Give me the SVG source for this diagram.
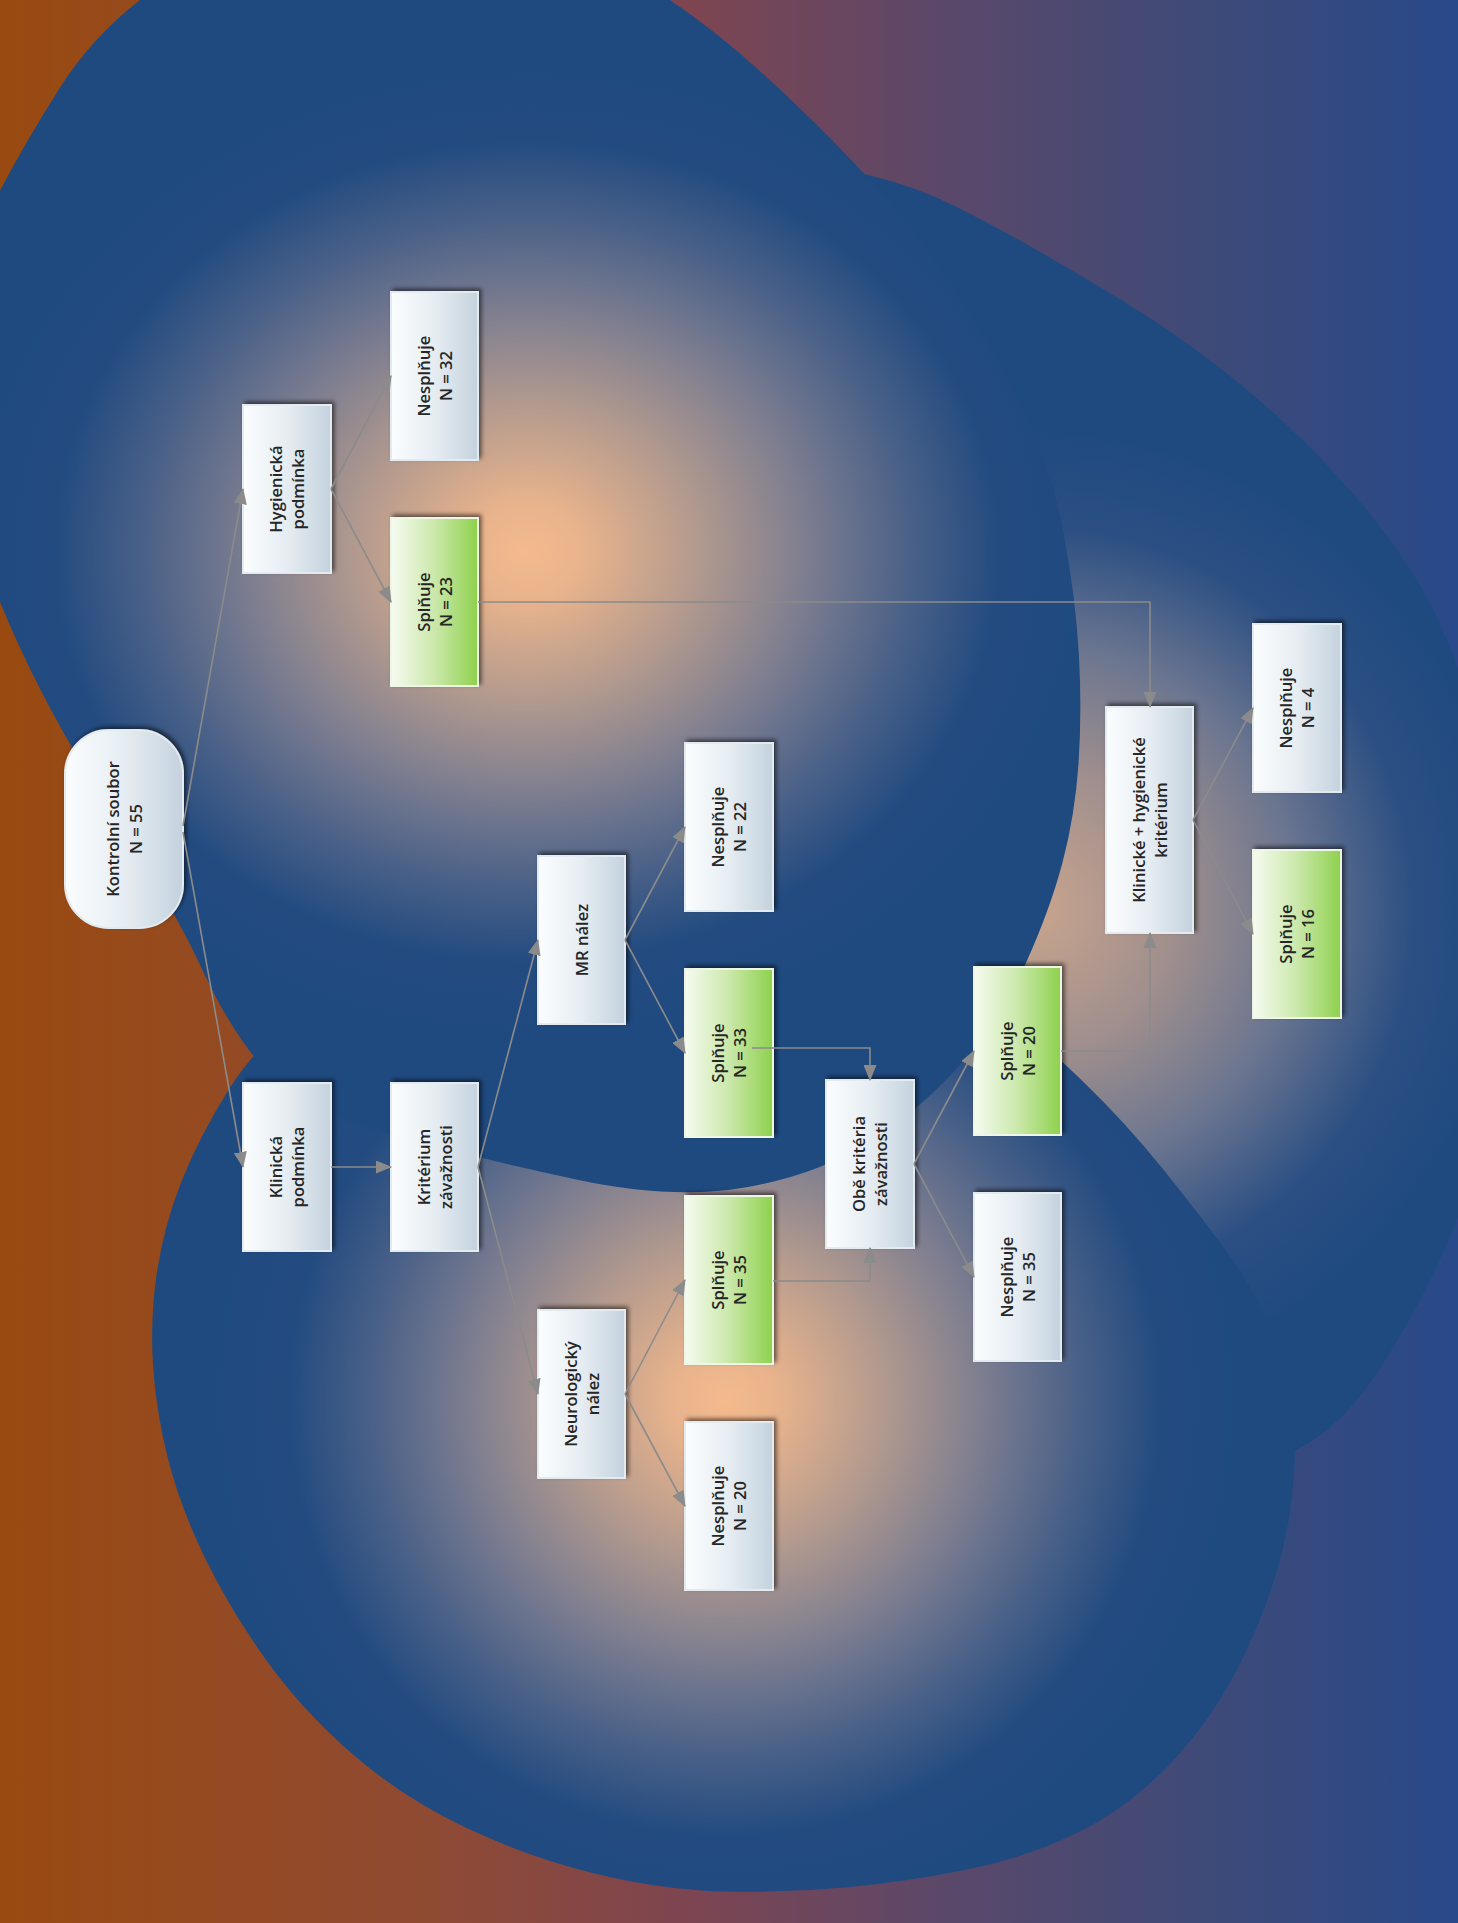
<svg xmlns="http://www.w3.org/2000/svg" width="1458" height="1923" viewBox="0 0 1458 1923">
<defs>
<style>
.box{fill:url(#gWhite);stroke:#e4ebf0;stroke-width:2;filter:url(#sh)}
.gbox{fill:url(#gGreen);stroke:#eef7e6;stroke-width:2;filter:url(#sh)}
.t{font-family:"Open Sans","Liberation Sans",sans-serif;font-weight:600;font-size:16.6px;fill:#262626;text-anchor:middle}
.ca{fill:none;stroke:#8b8b8b;stroke-width:1.6;marker-end:url(#ah)}
</style>
<linearGradient id="gBg" x1="0" y1="0" x2="1458" y2="0" gradientUnits="userSpaceOnUse">
<stop offset="0" stop-color="#9a4a10"/>
<stop offset="0.3" stop-color="#8f4a34"/>
<stop offset="0.48" stop-color="#7c4552"/>
<stop offset="0.65" stop-color="#5a486a"/>
<stop offset="0.84" stop-color="#3c4a79"/>
<stop offset="1" stop-color="#28498a"/>
</linearGradient>
<radialGradient id="gA" cx="527" cy="552" r="490" gradientUnits="userSpaceOnUse" gradientTransform="translate(527 552) scale(1.15 1) translate(-527 -552)">
<stop offset="0" stop-color="#f4ba8c"/>
<stop offset="0.1" stop-color="#e8b38c"/>
<stop offset="0.3" stop-color="#b39a8e"/>
<stop offset="0.5" stop-color="#7c7d90"/>
<stop offset="0.68" stop-color="#4a6188"/>
<stop offset="0.84" stop-color="#234b80"/>
<stop offset="1" stop-color="#1f4a80"/>
</radialGradient>
<radialGradient id="gB" cx="1030" cy="910" r="480" gradientUnits="userSpaceOnUse">
<stop offset="0" stop-color="#c9a58d"/>
<stop offset="0.3" stop-color="#a08f8d"/>
<stop offset="0.55" stop-color="#6c7690"/>
<stop offset="0.8" stop-color="#2b4f83"/>
<stop offset="1" stop-color="#1f4a80"/>
</radialGradient>
<radialGradient id="gC" cx="725" cy="1400" r="520" gradientUnits="userSpaceOnUse">
<stop offset="0" stop-color="#f4ba8c"/>
<stop offset="0.1" stop-color="#e8b38c"/>
<stop offset="0.3" stop-color="#b39a8e"/>
<stop offset="0.5" stop-color="#7c7d90"/>
<stop offset="0.68" stop-color="#4a6188"/>
<stop offset="0.84" stop-color="#234b80"/>
<stop offset="1" stop-color="#1f4a80"/>
</radialGradient>
<linearGradient id="gWhite" x1="0" y1="0" x2="1" y2="0">
<stop offset="0" stop-color="#fbfdfe"/>
<stop offset="0.5" stop-color="#e6edf2"/>
<stop offset="1" stop-color="#c4d2de"/>
</linearGradient>
<linearGradient id="gGreen" x1="0" y1="0" x2="1" y2="0">
<stop offset="0" stop-color="#f6fbf0"/>
<stop offset="0.5" stop-color="#cbe8ab"/>
<stop offset="1" stop-color="#8ed14c"/>
</linearGradient>
<filter id="sh" x="-20%" y="-20%" width="140%" height="140%">
<feDropShadow dx="2.5" dy="-2.5" stdDeviation="2" flood-color="#000" flood-opacity="0.55"/>
</filter>
<marker id="ah" markerWidth="16" markerHeight="13" refX="15" refY="6.5" orient="auto" markerUnits="userSpaceOnUse">
<path d="M0,0 L16,6.5 L0,13 Z" fill="#8b8b8b"/>
</marker>
</defs>

<g id="background">
<rect x="0" y="0" width="1458" height="1923" fill="url(#gBg)"/>
<path id="blobB" fill="url(#gB)" d="M765,159 Q880,168 956,206.5 Q1032,245 1127,303.5 Q1222,362 1298.5,436 Q1375,510 1420,585 Q1465,660 1485,780 Q1505,900 1495,1025 Q1485,1150 1455,1225 Q1425,1300 1377.5,1372.5 Q1330,1445 1265,1462.5 Q1200,1480 1075,1365 Q950,1250 900,1050 Q850,850 800,650 Q750,450 700,300 Q650,150 765,159 Z"/>
<path id="blobC" fill="url(#gC)" d="M810,905 Q920,940 980,990 Q1040,1040 1082.5,1081 Q1125,1122 1162.5,1168.5 Q1200,1215 1231,1257.5 Q1262,1300 1279.5,1355 Q1297,1410 1294.5,1465 Q1292,1520 1277,1571 Q1262,1622 1235,1673.5 Q1208,1725 1166.5,1767.5 Q1125,1810 1075,1834 Q1025,1858 965,1870 Q905,1882 845,1887.5 Q785,1893 723.5,1891.5 Q662,1890 594.5,1873.5 Q527,1857 463.5,1826.5 Q400,1796 350,1752 Q300,1708 264,1657 Q228,1606 204,1556 Q180,1506 168,1459 Q156,1412 153,1365 Q150,1318 157,1271.5 Q164,1225 182,1180 Q200,1135 230,1087.5 Q260,1040 330,985 Q400,930 475,905 Q550,880 625,875 Q700,870 810,905 Z"/>
<path id="blobA" fill="url(#gA)" d="M525,-75 Q650,-30 766,76.5 Q882,183 938,265.5 Q994,348 1023,409 Q1052,470 1064,535 Q1076,600 1079,656.5 Q1082,713 1078.5,764 Q1075,815 1062.5,862.5 Q1050,910 1025,965 Q1000,1020 960,1065 Q920,1110 868.5,1142.5 Q817,1175 745,1187.5 Q673,1200 578.5,1180 Q484,1160 392,1135 Q300,1110 265,1070 Q230,1030 202.5,970 Q175,910 115,817.5 Q55,725 17.5,642.5 Q-20,560 -50,465 Q-80,370 -42.5,280 Q-5,190 60,87.5 Q125,-15 262.5,-67.5 Q400,-120 525,-75 Z"/>
</g>

<g id="nodes">
<g id="kontrolni">
<rect class="box" x="65" y="730" width="118" height="198" rx="44" ry="44"/>
<g transform="translate(124 829) rotate(-90)"><text class="t" y="-5">Kontrolní soubor</text><text class="t" y="18">N = 55</text></g>
</g>
<g id="hygienicka">
<rect class="box" x="243" y="405" width="88" height="168"/>
<g transform="translate(287 489) rotate(-90)"><text class="t" y="-5">Hygienická</text><text class="t" y="17">podmínka</text></g>
</g>
<g id="klinicka">
<rect class="box" x="243" y="1083" width="88" height="168"/>
<g transform="translate(287 1167) rotate(-90)"><text class="t" y="-5">Klinická</text><text class="t" y="17">podmínka</text></g>
</g>
<g id="hyg-nesplnuje">
<rect class="box" x="391" y="292" width="87" height="168"/>
<g transform="translate(434.5 376) rotate(-90)"><text class="t" y="-5">Nesplňuje</text><text class="t" y="17">N = 32</text></g>
</g>
<g id="hyg-splnuje">
<rect class="gbox" x="391" y="518" width="87" height="168"/>
<g transform="translate(434.5 602) rotate(-90)"><text class="t" y="-5">Splňuje</text><text class="t" y="17">N = 23</text></g>
</g>
<g id="kriterium">
<rect class="box" x="391" y="1083" width="87" height="168"/>
<g transform="translate(434.5 1167) rotate(-90)"><text class="t" y="-5">Kritérium</text><text class="t" y="17">závažnosti</text></g>
</g>
<g id="mr">
<rect class="box" x="538" y="856" width="87" height="168"/>
<g transform="translate(581.5 940) rotate(-90)"><text class="t" y="6">MR nález</text></g>
</g>
<g id="neuro">
<rect class="box" x="538" y="1310" width="87" height="168"/>
<g transform="translate(581.5 1394) rotate(-90)"><text class="t" y="-5">Neurologický</text><text class="t" y="17">nález</text></g>
</g>
<g id="mr-nesplnuje">
<rect class="box" x="685" y="743" width="88" height="168"/>
<g transform="translate(729 827) rotate(-90)"><text class="t" y="-5">Nesplňuje</text><text class="t" y="17">N = 22</text></g>
</g>
<g id="mr-splnuje">
<rect class="gbox" x="685" y="969" width="88" height="168"/>
<g transform="translate(729 1053) rotate(-90)"><text class="t" y="-5">Splňuje</text><text class="t" y="17">N = 33</text></g>
</g>
<g id="neuro-splnuje">
<rect class="gbox" x="685" y="1196" width="88" height="168"/>
<g transform="translate(729 1280) rotate(-90)"><text class="t" y="-5">Splňuje</text><text class="t" y="17">N = 35</text></g>
</g>
<g id="neuro-nesplnuje">
<rect class="box" x="685" y="1422" width="88" height="168"/>
<g transform="translate(729 1506) rotate(-90)"><text class="t" y="-5">Nesplňuje</text><text class="t" y="17">N = 20</text></g>
</g>
<g id="obe">
<rect class="box" x="826" y="1080" width="88" height="168"/>
<g transform="translate(870 1164) rotate(-90)"><text class="t" y="-5">Obě kritéria</text><text class="t" y="17">závažnosti</text></g>
</g>
<g id="obe-splnuje">
<rect class="gbox" x="974" y="967" width="87" height="168"/>
<g transform="translate(1017.5 1051) rotate(-90)"><text class="t" y="-5">Splňuje</text><text class="t" y="17">N = 20</text></g>
</g>
<g id="obe-nesplnuje">
<rect class="box" x="974" y="1193" width="87" height="168"/>
<g transform="translate(1017.5 1277) rotate(-90)"><text class="t" y="-5">Nesplňuje</text><text class="t" y="17">N = 35</text></g>
</g>
<g id="klin-hyg">
<rect class="box" x="1106" y="707" width="87" height="226"/>
<g transform="translate(1149.5 820) rotate(-90)"><text class="t" y="-5">Klinické + hygienické</text><text class="t" y="17">kritérium</text></g>
</g>
<g id="kh-nesplnuje">
<rect class="box" x="1253" y="624" width="88" height="168"/>
<g transform="translate(1297 708) rotate(-90)"><text class="t" y="-5">Nesplňuje</text><text class="t" y="17">N = 4</text></g>
</g>
<g id="kh-splnuje">
<rect class="gbox" x="1253" y="850" width="88" height="168"/>
<g transform="translate(1297 934) rotate(-90)"><text class="t" y="-5">Splňuje</text><text class="t" y="17">N = 16</text></g>
</g>
</g>

<g id="connectors">
<line class="ca" x1="183" y1="826" x2="243" y2="489"/>
<line class="ca" x1="183" y1="832" x2="243" y2="1167"/>
<line class="ca" x1="331" y1="1167" x2="391" y2="1167"/>
<line class="ca" x1="331" y1="489" x2="391" y2="376"/>
<line class="ca" x1="331" y1="489" x2="391" y2="602"/>
<line class="ca" x1="478" y1="1167" x2="538" y2="940"/>
<line class="ca" x1="478" y1="1167" x2="538" y2="1394"/>
<line class="ca" x1="625" y1="940" x2="685" y2="827"/>
<line class="ca" x1="625" y1="940" x2="685" y2="1053"/>
<line class="ca" x1="625" y1="1394" x2="685" y2="1280"/>
<line class="ca" x1="625" y1="1394" x2="685" y2="1506"/>
<polyline class="ca" points="752,1048 870,1048 870,1080"/>
<polyline class="ca" points="773,1281 870,1281 870,1248"/>
<line class="ca" x1="914" y1="1164" x2="974" y2="1051"/>
<line class="ca" x1="914" y1="1164" x2="974" y2="1277"/>
<polyline class="ca" points="478,602 1150,602 1150,707"/>
<polyline class="ca" points="1061,1051 1150,1051 1150,933"/>
<line class="ca" x1="1193" y1="820" x2="1253" y2="708"/>
<line class="ca" x1="1193" y1="820" x2="1253" y2="934"/>
</g>
</svg>
